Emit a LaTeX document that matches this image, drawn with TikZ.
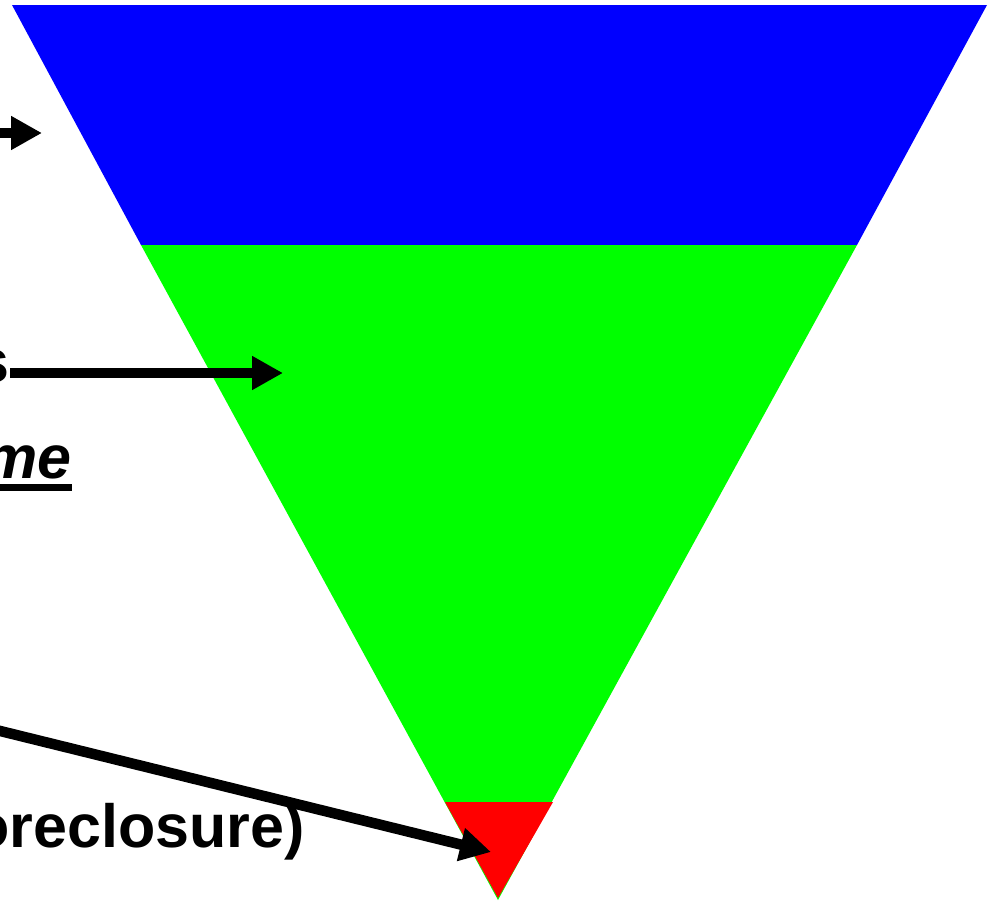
\documentclass[tikz,border=0pt]{standalone}
\usepackage{fontspec}
\setmainfont{Liberation Sans}
\usetikzlibrary{arrows.meta}
\definecolor{fblue}{RGB}{0,0,255}
\definecolor{fgreen}{RGB}{0,255,0}
\definecolor{fred}{RGB}{255,0,0}
\tikzset{
  lbl/.style={font=\fontsize{61}{70}\selectfont\bfseries, inner sep=0pt, anchor=base east},
  bigarrow/.style={line width=10.5pt, -{Triangle[length=31pt,width=32pt]}}
}
\begin{document}
\begin{tikzpicture}[x=1pt,y=-1pt]
\useasboundingbox (0,0) rectangle (990,900);
% funnel
\fill[fblue] (12,5) -- (987,5) -- (857,245) -- (141,245) -- cycle;
\fill[fgreen] (141,245) -- (857,245) -- (498,900) -- cycle;
\fill[fred] (445,802) -- (553,802) -- (498,898) -- cycle;
% texts
\node[lbl] (t2) at (10,382) {s};
\node[lbl, font=\fontsize{61}{70}\selectfont\bfseries\itshape] (t3) at (72,478) {me};
\draw[line width=7pt] (-10,487.5) -- (t3.east |- 0,487.5);
\node[lbl] (t4) at (305,847) {oreclosure)};
% arrows
\coordinate (s1) at (-10,133);
\coordinate (e1) at (42,133);
\coordinate (e2) at (283,373);
\coordinate (s3) at (-20,726);
\coordinate (e3) at (491,852);
\draw[bigarrow] (s1) -- (e1);
\draw[bigarrow] (t2.east |- e2) -- (e2);
\draw[bigarrow] (s3) -- (e3);
\end{tikzpicture}
\end{document}
